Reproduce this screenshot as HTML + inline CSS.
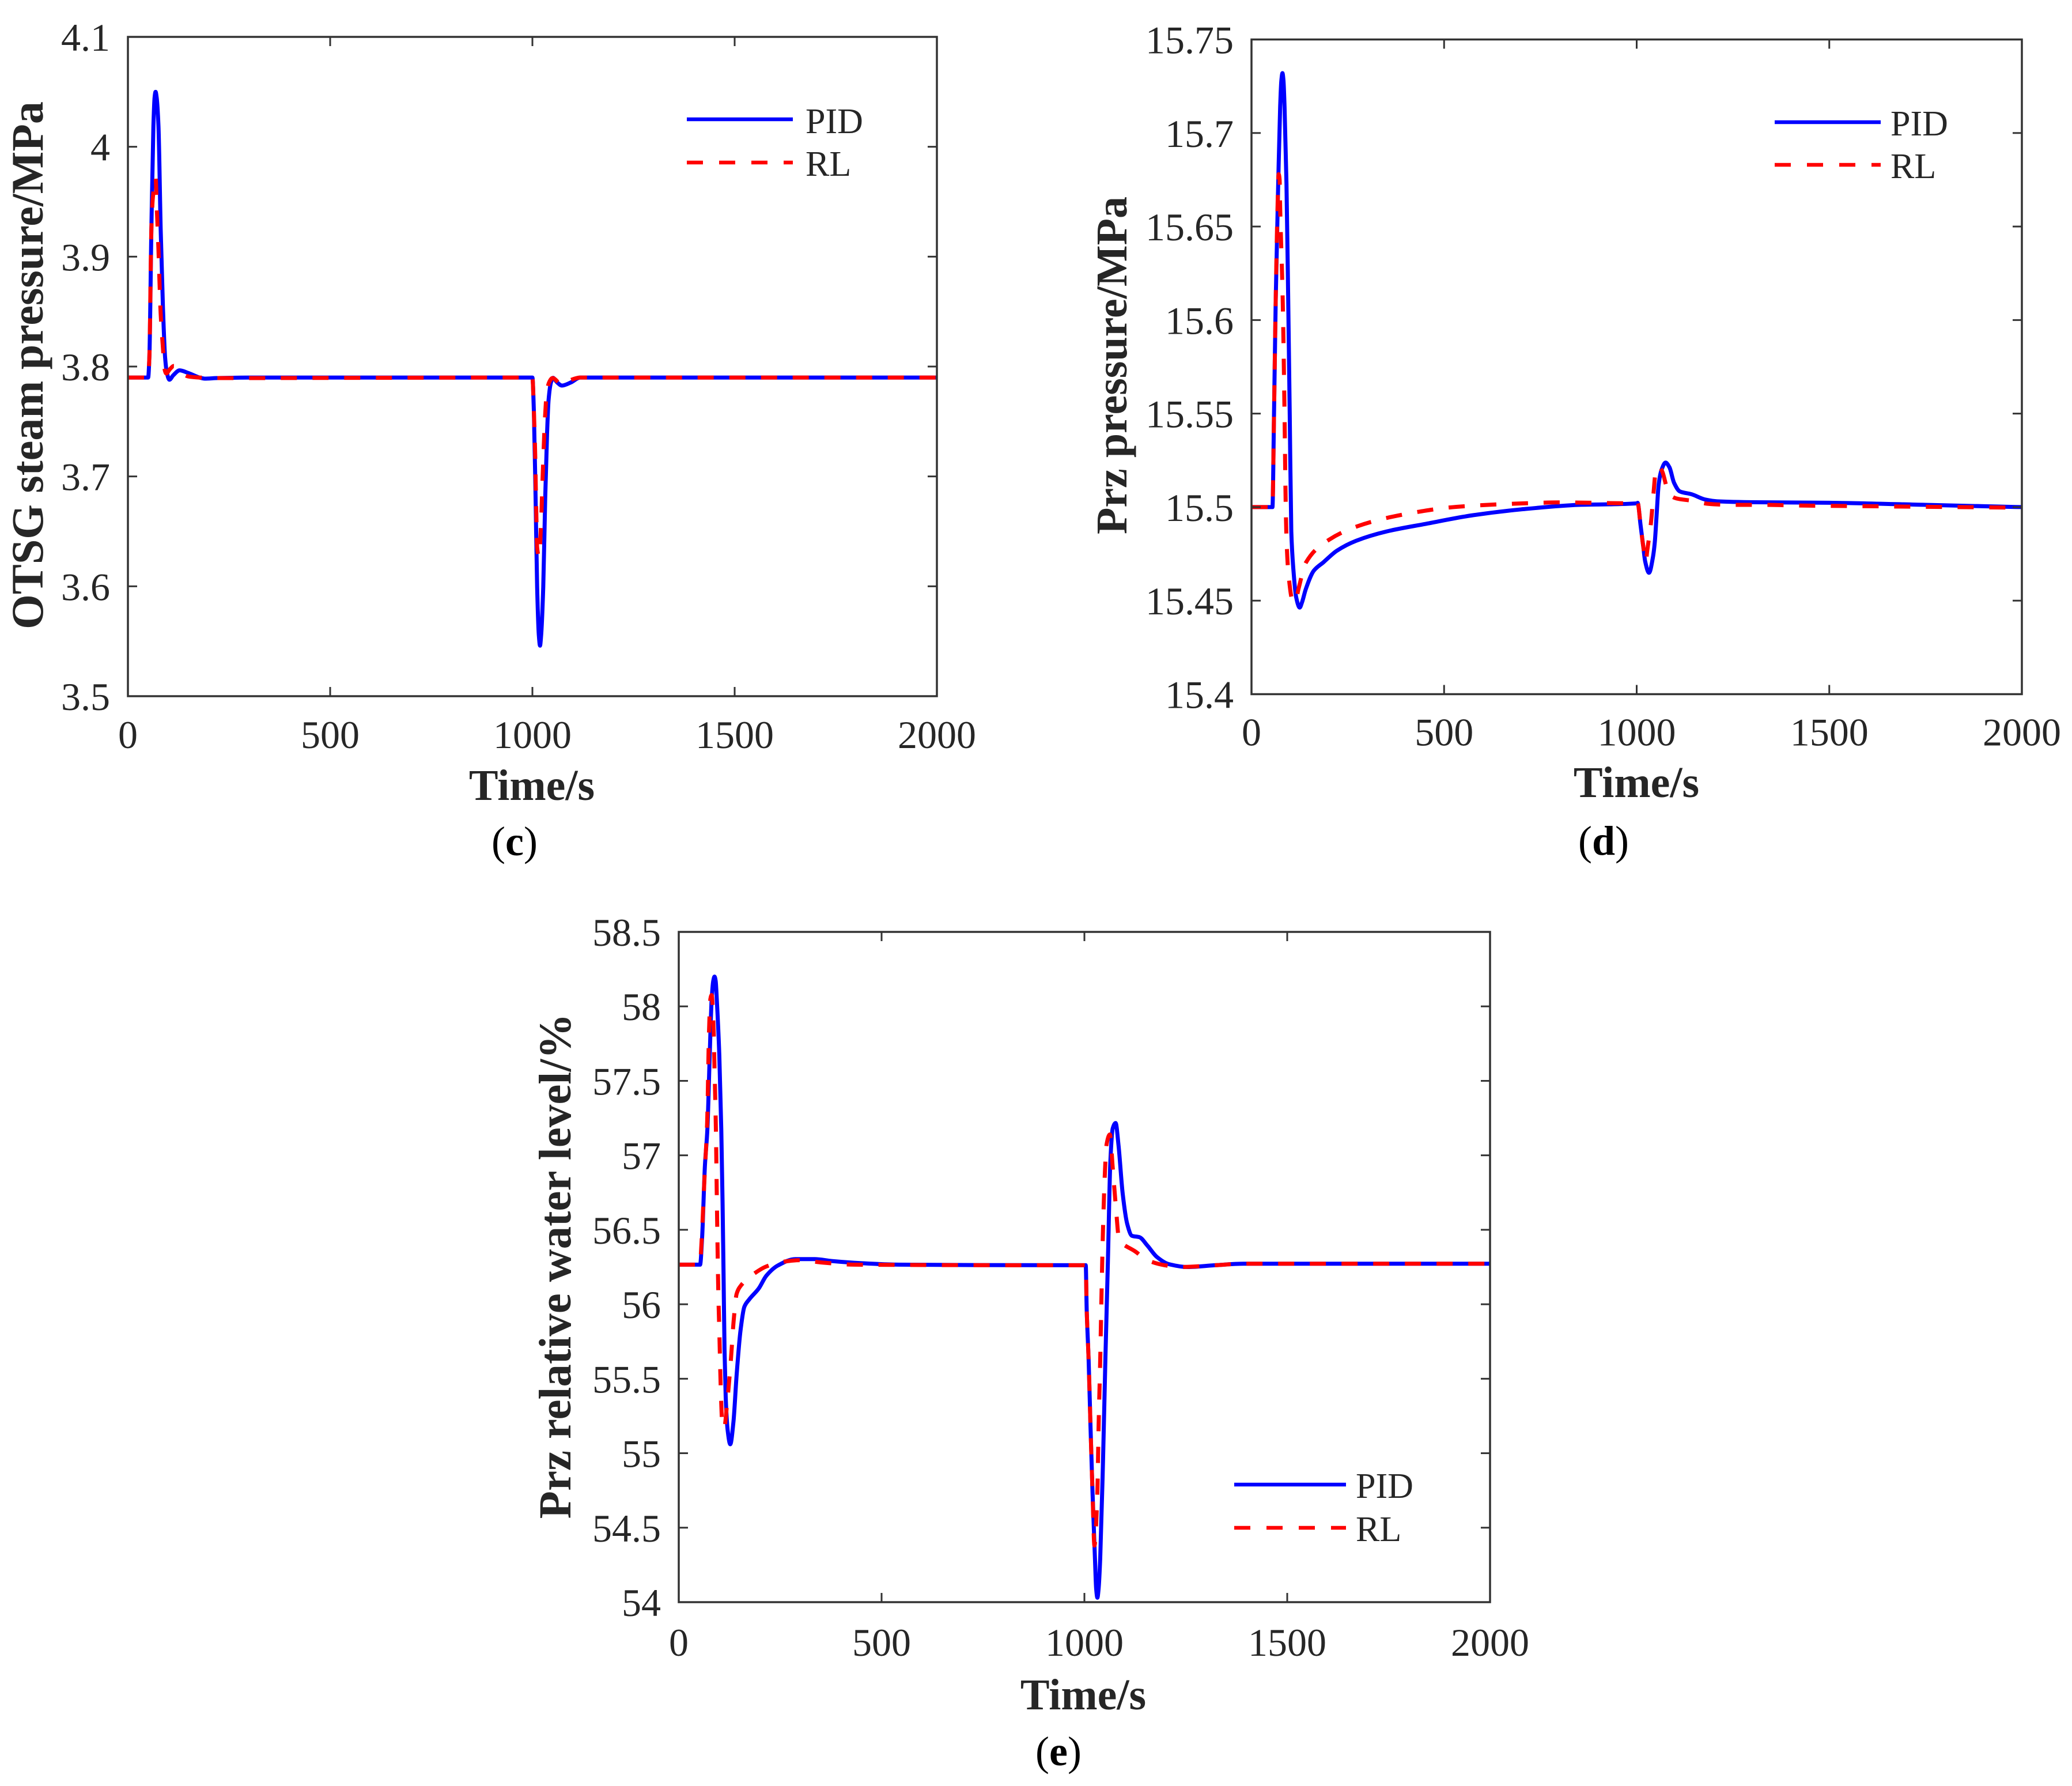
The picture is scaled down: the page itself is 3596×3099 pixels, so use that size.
<!DOCTYPE html>
<html lang="en">
<head>
<meta charset="utf-8">
<title>PID vs RL step response charts</title>
<style>
html,body{margin:0;padding:0;background:#fff}
svg{display:block}
text{font-family:"Liberation Serif",serif;fill:#262626}
.tick{font-size:68px}
.title{font-size:76px;font-weight:bold}
.leg{font-size:62px}
.cap{font-size:72px;fill:#000}
</style>
</head>
<body>
<svg id="fig" xmlns="http://www.w3.org/2000/svg" width="3596" height="3099" viewBox="0 0 3596 3099">
<rect x="0" y="0" width="3596" height="3099" fill="#fff"/>

<g id="panel-c"></g>
<g id="panel-d"></g>
<g id="panel-e"></g>

<text class="title" style="font-size:78px" text-anchor="middle" transform="translate(74 634) rotate(-90)">OTSG steam pressure/MPa</text>
<text class="title" text-anchor="middle" x="923" y="1388">Time/s</text>
<text class="cap" text-anchor="middle" x="893" y="1484">(<tspan font-weight="bold">c</tspan>)</text>

<text class="title" text-anchor="middle" transform="translate(1955 634) rotate(-90)">Prz pressure/MPa</text>
<text class="title" text-anchor="middle" x="2840" y="1383">Time/s</text>
<text class="cap" text-anchor="middle" x="2783" y="1483">(<tspan font-weight="bold">d</tspan>)</text>

<text class="title" style="font-size:79px" text-anchor="middle" transform="translate(990 2197) rotate(-90)">Prz relative water level/%</text>
<text class="title" text-anchor="middle" x="1880" y="2966">Time/s</text>
<text class="cap" text-anchor="middle" x="1837" y="3063">(<tspan font-weight="bold">e</tspan>)</text>

<g>
  <line x1="1192" x2="1376" y1="207" y2="207" stroke="#0000ff" stroke-width="6.5"/>
  <text class="leg" x="1398" y="231">PID</text>
  <line x1="1192" x2="1376" y1="282" y2="282" stroke="#ff0000" stroke-width="6.5" stroke-dasharray="28 28"/>
  <text class="leg" x="1398" y="305">RL</text>
</g>
<g>
  <line x1="3080" x2="3264" y1="212" y2="212" stroke="#0000ff" stroke-width="6.5"/>
  <text class="leg" x="3281" y="235">PID</text>
  <line x1="3080" x2="3264" y1="286" y2="286" stroke="#ff0000" stroke-width="6.5" stroke-dasharray="28 28"/>
  <text class="leg" x="3281" y="309">RL</text>
</g>
<g>
  <line x1="2142" x2="2336" y1="2576" y2="2576" stroke="#0000ff" stroke-width="6.5"/>
  <text class="leg" x="2353" y="2599">PID</text>
  <line x1="2142" x2="2336" y1="2651" y2="2651" stroke="#ff0000" stroke-width="6.5" stroke-dasharray="28 28"/>
  <text class="leg" x="2353" y="2674">RL</text>
</g>
</svg>

<script>
// ---- shared axis data ----
const xTickLabels = ['0','500','1000','1500','2000'];

// ---- panel (c) OTSG steam pressure ----
const cYTickLabels = ['3.5','3.6','3.7','3.8','3.9','4','4.1'];
const cPidTime = [0,50,53,58,63,66,68.4,71,75.5,81,86.5,92,96,102.5,112,127.9,150,177,190,220,300,1000,1003.6,1007.9,1011.7,1016,1018.8,1021.5,1026.8,1031.6,1036.3,1040,1046,1051,1060,1073,1095,1118,1160,2000];
const cPidValues = [3.79,3.79,3.808,3.925,4.019,4.045,4.05,4.045,4.019,3.925,3.855,3.808,3.795,3.788,3.792,3.7965,3.794,3.79,3.789,3.7895,3.79,3.79,3.7596,3.6795,3.5993,3.555,3.546,3.555,3.5993,3.6795,3.7396,3.7696,3.7857,3.7897,3.786,3.7827,3.7855,3.79,3.79,3.79];
const cRlTime = [0,50,53,58,61.5,68.4,71.7,75.5,78,81,86,91.3,94.7,104,113.6,130,149,177,220,1000,1003.6,1006.9,1008.3,1009.8,1011.7,1016.4,1022,1024.5,1027.3,1030.6,1035.3,1041.5,1049.6,1073,1090,1118,2000];
const cRlValues = [3.79,3.79,3.808,3.925,3.953,3.972,3.9417,3.9066,3.878,3.848,3.82,3.7965,3.7937,3.7977,3.8005,3.795,3.791,3.79,3.7895,3.79,3.7596,3.7195,3.691,3.6633,3.6353,3.627,3.6633,3.691,3.7195,3.7495,3.7757,3.7857,3.7895,3.7835,3.787,3.79,3.79];

// ---- panel (d) Prz pressure ----
const dYTickLabels = ['15.4','15.45','15.5','15.55','15.6','15.65','15.7','15.75'];
const dPidTime = [0,54.4,58.4,62.9,69.4,74.4,77.5,80.4,83,85.8,90.8,95.3,99.3,103.3,109,115.8,125.2,131,140.7,161.7,186.7,221.7,271.6,351,451,576,700.6,850,1000,1002.5,1010,1017,1022,1032,1042,1047,1052,1057,1065,1075,1085,1097,1112,1142,1179,1209,1309,1509,1750,2000];
const dPidValues = [15.5,15.5,15.549,15.611,15.673,15.714,15.728,15.732,15.728,15.714,15.673,15.611,15.549,15.487,15.466,15.452,15.4463,15.449,15.456,15.466,15.4705,15.4767,15.482,15.487,15.491,15.4957,15.4988,15.5012,15.502,15.5023,15.4905,15.4791,15.471,15.4649,15.473,15.4812,15.4966,15.512,15.5202,15.5238,15.5213,15.513,15.5084,15.5069,15.504,15.5031,15.5026,15.5023,15.5012,15.5];
const dRlTime = [0,54.4,58.4,62.9,67,70.5,73,74.4,81,85.8,88.3,90.3,95.3,106.8,114,121.7,141.7,201.6,274,351,433.7,513,596,678,800,1000,1002.5,1010,1017,1024,1027,1037,1043.5,1049.5,1058.7,1067,1079,1087,1104,1149,1184,1249,1332,1409,1495,2000];
const dRlValues = [15.5,15.5,15.549,15.611,15.655,15.678,15.675,15.66,15.611,15.549,15.508,15.487,15.466,15.45,15.4494,15.456,15.4705,15.4826,15.4897,15.4942,15.4975,15.4998,15.501,15.5018,15.5025,15.502,15.5023,15.4905,15.4791,15.471,15.4761,15.4915,15.5069,15.5192,15.5218,15.5187,15.5099,15.5064,15.5046,15.5033,15.5018,15.5012,15.5012,15.5009,15.5007,15.4997];

// ---- panel (e) Prz relative water level ----
const eYTickLabels = ['54','54.5','55','55.5','56','56.5','57','57.5','58','58.5'];
const ePidTime = [0,52.6,57.4,64.5,70.6,76.3,81,85,88.2,91,93.9,100,104.8,108,110.5,112.8,115.7,120.4,127,134.7,142.7,152.2,161.7,173.5,197.2,216,244.7,287.4,334.8,377.5,448.5,543,1000,1003.3,1005.7,1010.4,1015,1020,1026,1029,1032,1035,1039,1046,1051.7,1058,1064,1069.8,1077,1084,1094.5,1105.5,1117,1136,1155,1179,1207.5,1255,1321.5,1392.6,1511,2000];
const ePidValues = [56.266,56.266,56.438,56.931,57.177,57.67,58.039,58.17,58.2,58.17,58.039,57.67,57.177,56.685,56.192,55.7,55.379,55.158,55.06,55.207,55.527,55.823,55.983,56.032,56.106,56.192,56.261,56.303,56.303,56.29,56.276,56.266,56.262,56.262,55.96,55.628,55.184,54.74,54.295,54.09,54.03,54.09,54.295,54.96,55.628,56.295,56.96,57.18,57.217,57.07,56.74,56.54,56.46,56.45,56.395,56.317,56.27,56.25,56.262,56.272,56.272,56.272];
const eRlTime = [0,52.6,55,64,70,74.6,78,81,86,88,91.5,94,97.6,100,103.4,107,112,119,128.5,135.6,142.7,154.5,188,216,259,296.8,354,434,1000,1003.3,1005.7,1010.4,1015,1020,1024.7,1032,1035,1039,1042.2,1046,1050,1054.5,1062.8,1069.8,1077,1086,1092,1124,1156,1198,1235,1321.5,1392.6,1511,2000];
const eRlValues = [56.266,56.266,56.36,56.88,57.22,57.83,58.05,58.076,57.84,57.6,57.18,56.685,56.07,55.82,55.45,55.207,55.17,55.33,55.626,55.897,56.07,56.13,56.21,56.254,56.286,56.296,56.28,56.266,56.262,56.262,55.96,55.628,55.184,54.74,54.38,54.74,55.18,55.63,56.07,56.517,56.85,57.07,57.14,56.917,56.673,56.427,56.41,56.357,56.295,56.262,56.25,56.262,56.272,56.272,56.272];

// ---- drawing ----
const NS = 'http://www.w3.org/2000/svg';
const AXIS_COLOR = '#333333';

function svgEl(tag, parent) {
  const el = document.createElementNS(NS, tag);
  parent.appendChild(el);
  return el;
}

// Monotone cubic path through the data points (no overshoot at sharp corners).
function monotonePath(px, py) {
  const n = px.length;
  const slope = [];
  for (let i = 0; i < n - 1; i++) slope.push((py[i + 1] - py[i]) / (px[i + 1] - px[i]));
  const tan = [slope[0]];
  for (let i = 1; i < n - 1; i++) {
    if (slope[i - 1] * slope[i] <= 0) { tan.push(0); continue; }
    const h0 = px[i] - px[i - 1], h1 = px[i + 1] - px[i];
    const w0 = 2 * h1 + h0, w1 = h1 + 2 * h0;
    tan.push((w0 + w1) / (w0 / slope[i - 1] + w1 / slope[i]));
  }
  tan.push(slope[n - 2]);
  let d = 'M' + px[0].toFixed(2) + ' ' + py[0].toFixed(2);
  for (let i = 0; i < n - 1; i++) {
    const h = (px[i + 1] - px[i]) / 3;
    d += 'C' + (px[i] + h).toFixed(2) + ' ' + (py[i] + tan[i] * h).toFixed(2) + ' '
      + (px[i + 1] - h).toFixed(2) + ' ' + (py[i + 1] - tan[i + 1] * h).toFixed(2) + ' '
      + px[i + 1].toFixed(2) + ' ' + py[i + 1].toFixed(2);
  }
  return d;
}

function drawPanel(id, box, yLabels, pidT, pidV, rlT, rlV) {
  const g = document.getElementById(id);
  const yNums = yLabels.map(Number);
  const xNums = xTickLabels.map(Number);
  const x0 = xNums[0], x1 = xNums[xNums.length - 1];
  const y0 = yNums[0], y1 = yNums[yNums.length - 1];
  const sx = v => box.left + (v - x0) / (x1 - x0) * (box.right - box.left);
  const sy = v => box.bottom - (v - y0) / (y1 - y0) * (box.bottom - box.top);

  const toPath = (ts, vs) => monotonePath(ts.map(sx), vs.map(sy));

  const pid = svgEl('path', g);
  
  
  pid.setAttribute('d', toPath(pidT, pidV));
  pid.setAttribute('fill', 'none');
  pid.setAttribute('stroke', '#0000ff');
  pid.setAttribute('stroke-width', '7');
  pid.setAttribute('stroke-linejoin', 'round');

  const rl = svgEl('path', g);
  
  
  rl.setAttribute('d', toPath(rlT, rlV));
  rl.setAttribute('fill', 'none');
  rl.setAttribute('stroke', '#ff0000');
  rl.setAttribute('stroke-width', '7');
  rl.setAttribute('stroke-dasharray', '28 27');

  const frame = svgEl('rect', g);
  
  
  frame.setAttribute('x', box.left);
  frame.setAttribute('y', box.top);
  frame.setAttribute('width', box.right - box.left);
  frame.setAttribute('height', box.bottom - box.top);
  frame.setAttribute('fill', 'none');
  frame.setAttribute('stroke', AXIS_COLOR);
  frame.setAttribute('stroke-width', '3.5');

  xTickLabels.forEach((label, i) => {
    const px = sx(xNums[i]);
    [[box.bottom, box.bottom - 16], [box.top, box.top + 16]].forEach(pair => {
      const t = svgEl('line', g);
      
      
      t.setAttribute('x1', px); t.setAttribute('x2', px);
      t.setAttribute('y1', pair[0]); t.setAttribute('y2', pair[1]);
      t.setAttribute('stroke', AXIS_COLOR);
      t.setAttribute('stroke-width', '3');
    });
    const txt = svgEl('text', g);
    
    
    txt.setAttribute('class', 'tick');
    txt.setAttribute('text-anchor', 'middle');
    txt.setAttribute('x', px);
    txt.setAttribute('y', box.bottom + box.xLabelGap);
    txt.textContent = label;
  });

  yLabels.forEach((label, i) => {
    const py = sy(yNums[i]);
    [[box.left, box.left + 16], [box.right, box.right - 16]].forEach(pair => {
      const t = svgEl('line', g);
      
      
      t.setAttribute('y1', py); t.setAttribute('y2', py);
      t.setAttribute('x1', pair[0]); t.setAttribute('x2', pair[1]);
      t.setAttribute('stroke', AXIS_COLOR);
      t.setAttribute('stroke-width', '3');
    });
    const txt = svgEl('text', g);
    
    
    txt.setAttribute('class', 'tick');
    txt.setAttribute('text-anchor', 'end');
    txt.setAttribute('x', box.left - 31);
    txt.setAttribute('y', py + 24);
    txt.textContent = label;
  });
}

drawPanel('panel-c', {left:222, right:1626, top:64, bottom:1208, xLabelGap:90}, cYTickLabels, cPidTime, cPidValues, cRlTime, cRlValues);
drawPanel('panel-d', {left:2172, right:3509, top:68.5, bottom:1204.5, xLabelGap:89}, dYTickLabels, dPidTime, dPidValues, dRlTime, dRlValues);
drawPanel('panel-e', {left:1178, right:2586, top:1617, bottom:2780, xLabelGap:93}, eYTickLabels, ePidTime, ePidValues, eRlTime, eRlValues);
</script>
</body>
</html>
